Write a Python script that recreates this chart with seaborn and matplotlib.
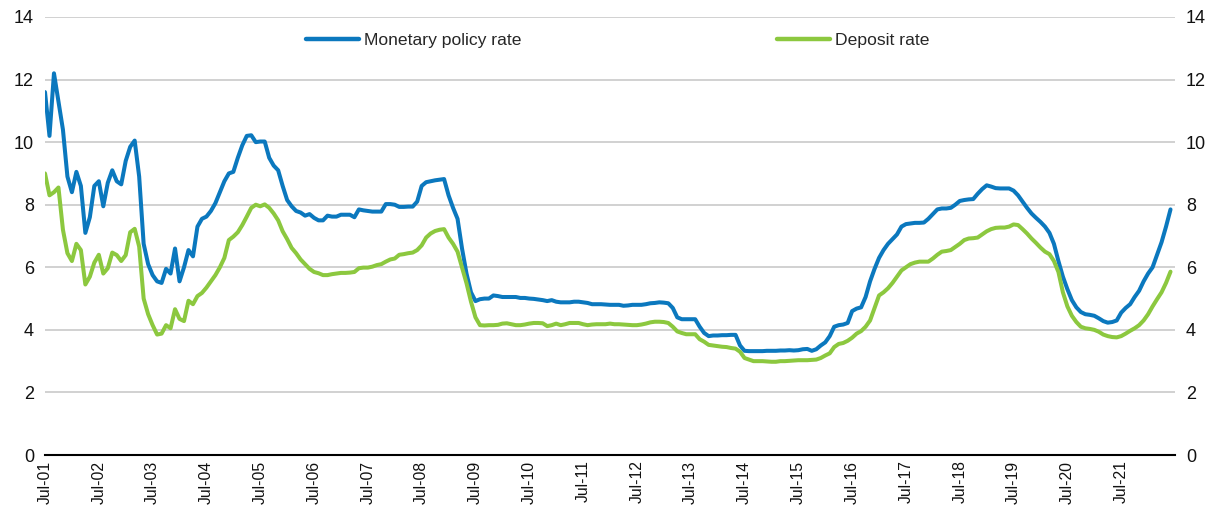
import numpy as np
import pandas as pd
import matplotlib
matplotlib.use("Agg")
import matplotlib.pyplot as plt
import seaborn as sns

# ---- data: monthly, Jul-2001 .. Jun-2022 (one row of 12 per year, Jul..Jun) ----
policy_rate = [
    11.6, 10.2, 12.2, 11.3, 10.4, 8.9, 8.4, 9.05, 8.6, 7.1, 7.6, 8.6,
    8.75, 7.95, 8.7, 9.1, 8.75, 8.65, 9.4, 9.85, 10.05, 8.9, 6.75, 6.1,
    5.75, 5.55, 5.5, 5.95, 5.8, 6.6, 5.55, 6.0, 6.55, 6.35, 7.3, 7.55,
    7.62, 7.8, 8.05, 8.4, 8.75, 9.0, 9.05, 9.5, 9.9, 10.2, 10.22, 10.0,
    10.02, 10.02, 9.5, 9.25, 9.1, 8.6, 8.15, 7.95, 7.8, 7.75, 7.65, 7.7,
    7.58, 7.5, 7.5, 7.65, 7.62, 7.62, 7.68, 7.68, 7.68, 7.6, 7.85, 7.82,
    7.8, 7.78, 7.78, 7.78, 8.02, 8.02, 8.0, 7.93, 7.93, 7.94, 7.94, 8.1,
    8.6, 8.72, 8.75, 8.78, 8.8, 8.82, 8.3, 7.9, 7.55, 6.6, 5.8, 5.2,
    4.92, 4.98, 5.0, 5.0, 5.1, 5.08, 5.05, 5.05, 5.05, 5.05, 5.02, 5.02,
    5.0, 4.99, 4.97, 4.95, 4.92, 4.95, 4.9, 4.88, 4.88, 4.88, 4.9, 4.9,
    4.88, 4.86, 4.82, 4.82, 4.82, 4.81, 4.8, 4.8, 4.8, 4.77, 4.78, 4.8,
    4.8, 4.8, 4.82, 4.85, 4.86, 4.88, 4.87, 4.85, 4.7, 4.4, 4.34, 4.34,
    4.34, 4.34, 4.1, 3.9, 3.8, 3.82, 3.82, 3.83, 3.83, 3.84, 3.84, 3.5,
    3.33, 3.32, 3.32, 3.32, 3.32, 3.33, 3.33, 3.33, 3.34, 3.34, 3.35, 3.34,
    3.35, 3.38, 3.39, 3.33, 3.38, 3.5, 3.6, 3.8, 4.1, 4.15, 4.17, 4.22,
    4.6, 4.68, 4.72, 5.05, 5.55, 5.95, 6.3, 6.55, 6.75, 6.9, 7.05, 7.3,
    7.38, 7.4, 7.42, 7.42, 7.43, 7.55, 7.7, 7.85, 7.88, 7.88, 7.9, 8.0,
    8.12, 8.15, 8.17, 8.18, 8.35, 8.5, 8.62, 8.58, 8.53, 8.52, 8.52, 8.52,
    8.45, 8.3, 8.1, 7.9, 7.72, 7.58, 7.45, 7.3, 7.1, 6.75, 6.2, 5.7,
    5.3, 4.95, 4.72, 4.57, 4.5, 4.48, 4.45, 4.37, 4.28, 4.23, 4.25, 4.3,
    4.55, 4.7, 4.82, 5.05, 5.25, 5.55, 5.8, 6.0, 6.4, 6.8, 7.3, 7.85,
]

deposit_rate = [
    9.0, 8.3, 8.4, 8.55, 7.2, 6.45, 6.2, 6.75, 6.55, 5.45, 5.7, 6.15,
    6.4, 5.8, 5.97, 6.47, 6.39, 6.2, 6.39, 7.12, 7.23, 6.66, 5.0, 4.5,
    4.15, 3.85, 3.88, 4.15, 4.05, 4.66, 4.35, 4.28, 4.93, 4.82, 5.08, 5.18,
    5.35, 5.55, 5.75, 6.0, 6.3, 6.87, 6.98, 7.12, 7.35, 7.62, 7.9, 8.0,
    7.95, 8.01, 7.9, 7.72, 7.5, 7.15, 6.9, 6.62, 6.45, 6.25, 6.1, 5.95,
    5.85, 5.81, 5.75, 5.75, 5.78, 5.8, 5.82, 5.82, 5.83, 5.85, 5.97, 5.99,
    5.99, 6.02, 6.07, 6.1, 6.18, 6.25, 6.28, 6.4, 6.42, 6.45, 6.47, 6.55,
    6.7, 6.95, 7.08, 7.16, 7.2, 7.22, 6.95, 6.75, 6.5, 6.0, 5.49, 4.9,
    4.4, 4.15, 4.14, 4.15, 4.15, 4.16, 4.2, 4.21, 4.18, 4.15, 4.15, 4.17,
    4.2, 4.22, 4.22, 4.21, 4.12, 4.15, 4.2, 4.15, 4.18, 4.22, 4.22, 4.22,
    4.18, 4.15, 4.17, 4.18, 4.18, 4.18, 4.2, 4.18, 4.18, 4.17, 4.16, 4.15,
    4.15, 4.17, 4.2, 4.24, 4.26, 4.26, 4.25, 4.22, 4.1, 3.95, 3.9, 3.86,
    3.86, 3.86, 3.7, 3.62, 3.52, 3.5, 3.48, 3.46, 3.45, 3.42, 3.4, 3.3,
    3.1, 3.05, 3.0, 3.0, 3.0, 2.99, 2.98, 2.98, 3.0, 3.0, 3.01, 3.02,
    3.03, 3.03, 3.03, 3.04, 3.05, 3.1, 3.18, 3.25, 3.45, 3.55, 3.58, 3.65,
    3.75, 3.88, 3.96, 4.1, 4.3, 4.7, 5.1, 5.2, 5.33, 5.5, 5.7, 5.9,
    6.0, 6.1, 6.15, 6.18, 6.18, 6.18, 6.28, 6.4, 6.5, 6.52, 6.55, 6.65,
    6.75, 6.87, 6.92, 6.93, 6.95, 7.05, 7.15, 7.22, 7.26, 7.27, 7.27, 7.3,
    7.37, 7.35, 7.22, 7.08, 6.92, 6.78, 6.63, 6.5, 6.42, 6.2, 5.85, 5.2,
    4.75, 4.45, 4.25, 4.1, 4.05, 4.03, 4.0, 3.94, 3.85, 3.8, 3.77, 3.76,
    3.8, 3.88, 3.97, 4.05, 4.15, 4.3, 4.5, 4.75, 4.98, 5.2, 5.5, 5.86,
]

series_names = ["Monetary policy rate", "Deposit rate"]
tick_labels = ["Jul-%02d" % y for y in range(1, 22)]
y_ticks = [0, 2, 4, 6, 8, 10, 12, 14]

# ---- build long-form frame ----
n = len(policy_rate)
month_idx = np.arange(n)
df = pd.DataFrame({
    "month": np.concatenate([month_idx, month_idx]),
    "value": policy_rate + deposit_rate,
    "series": [series_names[0]] * n + [series_names[1]] * n,
})

sns.set_theme(style="white")
plt.rcParams["font.family"] = ["Liberation Sans", "DejaVu Sans"]

fig = plt.figure(figsize=(12.23, 5.09), dpi=100)
ax = fig.add_axes([45 / 1223, 1 - 455 / 509, (1175 - 45) / 1223, (455 - 17) / 509])

palette = {series_names[0]: "#0b78be", series_names[1]: "#8cc83f"}
sns.lineplot(data=df, x="month", y="value", hue="series", palette=palette,
             linewidth=2.9, ax=ax, legend=True)

ax.set_xlim(0, 252)
ax.set_ylim(0, 14)
ax.set_yticks(y_ticks)
ax.set_yticklabels([str(v) for v in y_ticks])
ax.set_xticks(list(range(0, 253, 12)))
ax.set_xticklabels(tick_labels + [""], rotation=90)
ax.set_xlabel("")
ax.set_ylabel("")

for y in y_ticks[1:]:
    ax.axhline(y, color="#c9c9c9", linewidth=1.2, zorder=0)

for s in ["left", "right", "top"]:
    ax.spines[s].set_visible(False)
ax.spines["bottom"].set_color("black")
ax.spines["bottom"].set_linewidth(1.5)

ax.tick_params(axis="y", left=False, right=False, labelleft=True, labelright=True,
               labelsize=13, pad=2, colors="#111111")
ax.tick_params(axis="x", direction="in", length=5, width=1.2, color="black",
               labelsize=11.3, pad=4, labelcolor="#111111")

leg = ax.legend(loc="center left", bbox_to_anchor=(0.2245, 0.947), ncol=2,
                frameon=False, fontsize=12.6, handlelength=3.03, handletextpad=0.29,
                columnspacing=14.6, borderaxespad=0)
for line in leg.get_lines():
    line.set_linewidth(3.2)

fig.savefig("out.png", dpi=100)
